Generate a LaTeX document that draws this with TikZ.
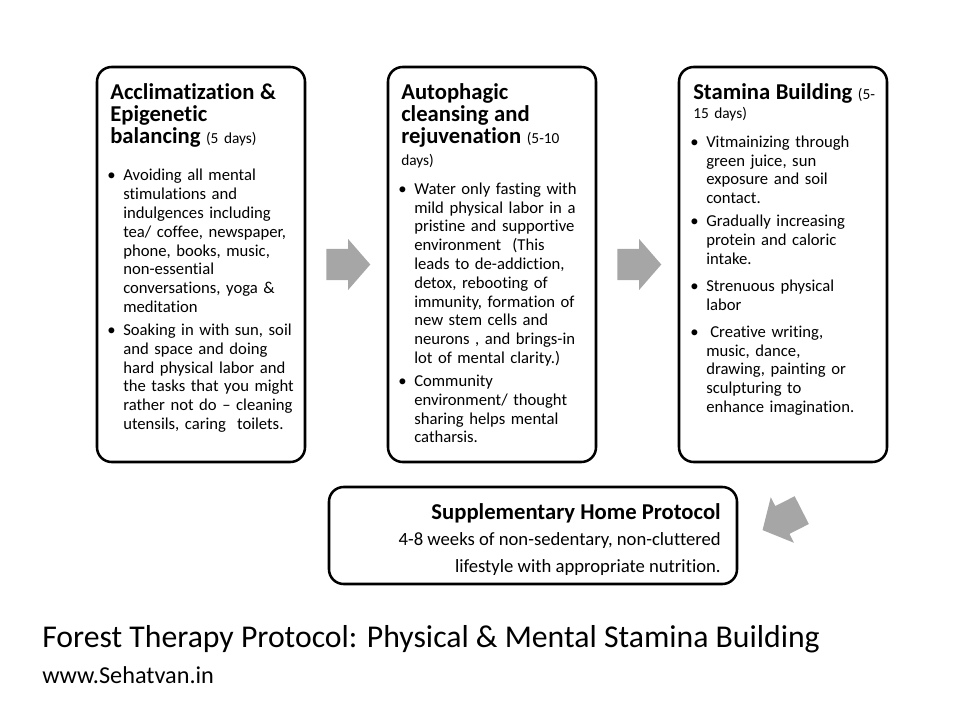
\documentclass[tikz,border=0pt]{standalone}
\usepackage{fontspec}
\setmainfont{Carlito}[Ligatures={TeX,NoCommon}]
\usetikzlibrary{positioning,calc,shapes.arrows}
\definecolor{ink}{HTML}{000000}
\definecolor{arrowgray}{HTML}{A6A6A6}
\newcommand\headfont{\fontsize{17}{16.75}\selectfont\bfseries}
\newcommand\daysfont{\fontsize{11.5}{14}\selectfont\mdseries}
\newcommand\bodyfont{\fontsize{12.5}{14.1}\selectfont}
\newcommand\phasehead[2][4.5pt]{{\headfont\leftskip=2.25pt #2\par}\vspace{#1}}
\newcommand\pitem[2][0pt]{\par\vspace{#1}\hangindent=12pt\hangafter=1\noindent\makebox[12pt][l]{\textbullet}#2\par}
\tikzset{
  phase/.style={draw=ink,line width=1.9pt,rounded corners=11pt,fill=white,
    minimum width=156pt,minimum height=296.25pt,inner sep=0pt,outer sep=0pt},
  phasetext/.style={anchor=north west,text width=165pt,inner sep=0pt,font=\bodyfont,
    execute at begin node={\raggedright\setlength{\parskip}{3.2pt}}},
  homebox/.style={draw=ink,line width=1.9pt,rounded corners=11pt,fill=white,
    minimum width=306pt,minimum height=72.75pt,inner sep=0pt,outer sep=0pt},
  hometext/.style={anchor=north east,align=right,inner sep=0pt,font=\fontsize{14}{20}\selectfont},
  blockarrow/.style={single arrow,fill=arrowgray,draw=none,inner xsep=0pt,inner ysep=11.5pt,
    minimum height=33pt,single arrow head extend=7.5pt,single arrow tip angle=98,anchor=tail},
  titletext/.style={anchor=base west,inner sep=0pt},
}
\begin{document}
\begin{tikzpicture}[x=0.75pt,y=-0.75pt]
  \useasboundingbox (0,0) rectangle (960,720);
  % the three phases
  \node[phase,anchor=north west] (acclim) at (97,67) {};
  \node[phase,right=62.25pt of acclim] (autoph) {};
  \node[phase,right=62.25pt of autoph] (stamina) {};
  \node[phasetext] (acclimtxt) at ($(acclim.north west)+(10,16)$) {%
    \phasehead[10.5pt]{Acclimatization \&\\Epigenetic\\balancing {\daysfont(5 days)}}%
    \pitem{Avoiding all mental\newline stimulations and\newline indulgences including\newline tea/ coffee, newspaper,\newline phone, books, music,\newline non-essential\newline conversations, yoga \&\newline meditation}%
    \pitem{Soaking in with sun, soil\newline and space and doing\newline hard physical labor and\newline the tasks that you might\newline rather not do – cleaning\newline utensils, caring\ \ toilets.}};
  \node[phasetext] (autophtxt) at ($(autoph.north west)+(10,16)$) {%
    \phasehead{Autophagic\\cleansing and\\rejuvenation {\daysfont(5-10}\\[-0.75pt]{\daysfont days)}}%
    \pitem{Water only fasting with\newline mild physical labor in a\newline pristine and supportive\newline environment\ \ (This\newline leads to de-addiction,\newline detox, rebooting of\newline immunity, formation of\newline new stem cells and\newline neurons , and brings-in\newline lot of mental clarity.)}%
    \pitem{Community\newline environment/ thought\newline sharing helps mental\newline catharsis.}};
  \node[phasetext] (staminatxt) at ($(stamina.north west)+(11,16)$) {%
    \phasehead{Stamina Building {\daysfont(5-}\\[-2.5pt]{\daysfont 15 days)}}%
    \pitem{Vitmainizing through\newline green juice, sun\newline exposure and soil\newline contact.}%
    \pitem{Gradually increasing\newline protein and caloric\newline intake.}%
    \pitem[3pt]{Strenuous physical\newline labor}%
    \pitem[3pt]{\hspace{3pt}Creative writing,\newline music, dance,\newline drawing, painting or\newline sculpturing to\newline enhance imagination.}};
  % block arrows between phases
  \node[blockarrow] (arrowa) at ($(acclim.east)+(21,0)$) {};
  \node[blockarrow] (arrowb) at ($(autoph.east)+(21,0)$) {};
  % home protocol
  \node[homebox,anchor=north west] (home) at (329,487) {};
  \node[hometext] (hometxt) at ($(home.north east)+(-16,16)$) {%
    {\fontsize{17}{20}\selectfont\bfseries Supplementary Home Protocol}\\
    4-8 weeks of non-sedentary, non-cluttered\\
    lifestyle with appropriate nutrition.};
  \node[blockarrow,rotate=207] (arrowc) at ($(home.east)+(65,-25.5)$) {};
  % caption
  \node[titletext,font=\fontsize{23.8}{28}\selectfont] (title) at (42,647) {Forest Therapy Protocol: Physical \& Mental Stamina Building};
  \node[titletext,font=\fontsize{18.2}{20}\selectfont] (url) at (42,683) {www.Sehatvan.in};
\end{tikzpicture}
\end{document}
